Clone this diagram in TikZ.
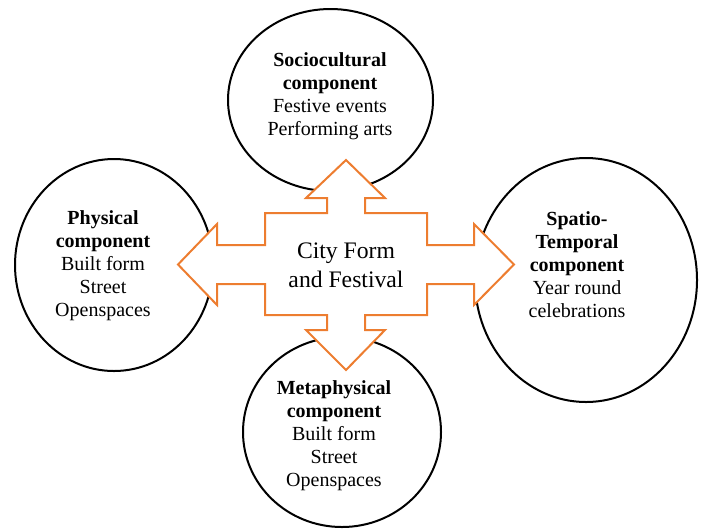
\documentclass[tikz,border=0pt]{standalone}
\usepackage{fontspec}
\setmainfont{Liberation Serif}
\usetikzlibrary{calc}

\tikzset{
  ring/.style={draw=mycolor000000,line width=1.2pt},
  comptext/.style={align=center,inner sep=0.0,font=\fontsize{12pt}{13.8pt}\selectfont},
  hubtext/.style={align=center,inner sep=0.0,font=\fontsize{14.2pt}{17.4pt}\selectfont},
  crossarrow/.style={fill=white,draw=mycolorED7D31,line width=1.2pt,line join=miter}
}

\begin{document}
\begin{tikzpicture}[x=0.6pt,y=-0.6pt]
\definecolor{mycolor000000}{rgb}{0,0,0}
\definecolor{mycolorED7D31}{rgb}{0.93,0.49,0.19}
\useasboundingbox (0,0) rectangle (705,529);
\begin{scope}
% the four component rings
\path [ring] (330.5,100) ellipse [x radius=102.5,y radius=91];
\path [ring] (114,265) ellipse [x radius=99,y radius=106];
\path [ring] (586,280) ellipse [x radius=111,y radius=122];
\path [ring] (342,432) ellipse [x radius=99,y radius=95];
\end{scope}
\begin{scope}
% four-way arrow around the hub
\path [crossarrow] (346,160) -- (385,198) -- (365,198) -- (365,213) -- (427,213) -- (427,245)
  -- (474,245) -- (474,224) -- (514,264.5) -- (474,305) -- (474,284) -- (427,284)
  -- (427,315) -- (365,315) -- (365,330) -- (385,330) -- (346,370) -- (306,330)
  -- (327,330) -- (327,315) -- (265,315) -- (265,284) -- (217,284) -- (217,305)
  -- (178,264.5) -- (217,224) -- (217,245) -- (265,245) -- (265,213) -- (327,213)
  -- (327,198) -- (306,198) -- cycle;
\end{scope}
\begin{scope}
\node (hub) [hubtext] at (346,265.5) {City Form\\and Festival};
\node (socio) [comptext] at (330,96) {\textbf{Sociocultural}\\\textbf{component}\\Festive events\\Performing arts};
\node (phys) [comptext] at (103,265.7) {\textbf{Physical}\\\textbf{component}\\Built form\\Street\\Openspaces};
\node (spatio) [comptext] at (577,265) {\textbf{Spatio-}\\\textbf{Temporal}\\\textbf{component}\\Year round\\celebrations};
\node (meta) [comptext] at (334,435.2) {\textbf{Metaphysical}\\\textbf{component}\\Built form\\Street\\Openspaces};
\end{scope}
\end{tikzpicture}
\end{document}
